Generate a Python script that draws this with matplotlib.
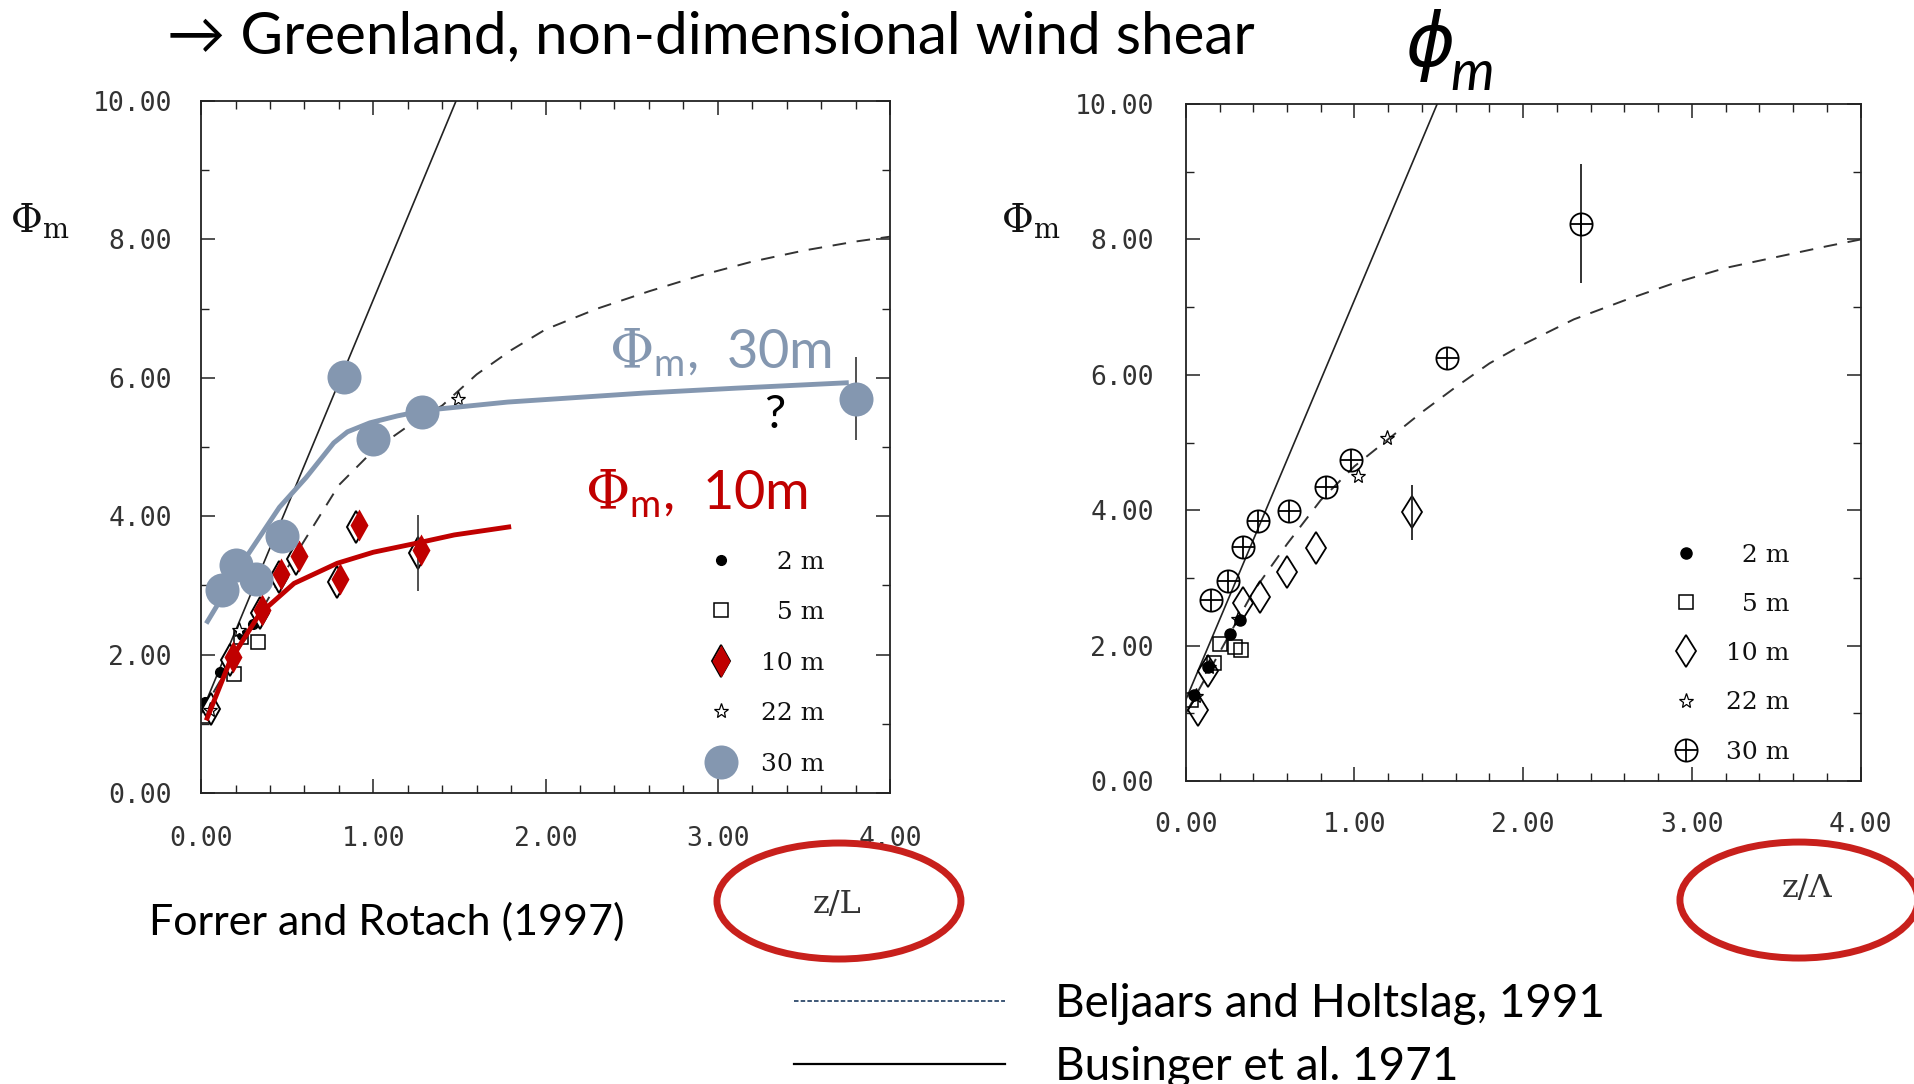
import matplotlib
matplotlib.use('Agg')
import matplotlib.pyplot as plt
from matplotlib.patches import Ellipse
from matplotlib.lines import Line2D
from matplotlib.legend_handler import HandlerTuple
from matplotlib.ticker import MultipleLocator
from matplotlib.transforms import ScaledTranslation

plt.rcParams['mathtext.fontset'] = 'custom'
plt.rcParams['mathtext.rm'] = 'DejaVu Serif'
plt.rcParams['mathtext.sf'] = 'Lato'
plt.rcParams['mathtext.it'] = 'DejaVu Serif:italic'

SLIDE = ['Lato', 'DejaVu Sans']
BLUEGRAY = '#8497B0'
DARKRED = '#C00000'
RING = '#C8201C'

# axis ticks shared by both panels
x_ticks = [0, 1, 2, 3, 4]
x_ticklabels = ['0.00', '1.00', '2.00', '3.00', '4.00']
y_ticks = [0, 2, 4, 6, 8, 10]
y_ticklabels = ['0.00', '2.00', '4.00', '6.00', '8.00', '10.00']

heights = ['\u20072 m', '\u20075 m', '10 m', '22 m', '30 m']

# ---- left panel: Forrer and Rotach (1997), phi_m vs z/L ----
l_2m_x = [0.02, 0.11, 0.24, 0.30]
l_2m_y = [1.31, 1.75, 2.28, 2.45]
l_5m_x = [0.01, 0.19, 0.23, 0.33]
l_5m_y = [1.12, 1.72, 2.25, 2.18]
l_10m_x = [0.06, 0.17, 0.34, 0.45, 0.55, 0.79, 0.90, 1.26]
l_10m_y = [1.22, 1.92, 2.60, 3.12, 3.38, 3.05, 3.84, 3.47]
l_10m_err = [0, 0, 0, 0, 0, 0, 0, 0.55]
l_22m_x = [0.05, 0.22, 1.49]
l_22m_y = [1.20, 2.35, 5.70]
l_30m_x = [0.12, 0.20, 0.32, 0.47, 0.83, 1.00, 1.28, 3.80]
l_30m_y = [2.93, 3.30, 3.09, 3.71, 6.01, 5.11, 5.50, 5.70]
l_30m_err = [0, 0, 0, 0, 0, 0, 0, 0.60]

l_bus_x = [0.0, 1.48]
l_bus_y = [1.15, 10.0]
l_bh_x = [0.0, 0.2, 0.4, 0.6, 0.8, 1.0, 1.2, 1.4, 1.6, 1.8, 2.0, 2.3, 2.6, 2.9, 3.2, 3.5, 3.8, 4.0]
l_bh_y = [1.15, 2.0, 2.85, 3.65, 4.45, 4.95, 5.3, 5.6, 6.05, 6.4, 6.7, 7.0, 7.25, 7.48, 7.68, 7.84, 7.97, 8.04]

fit30_x = [0.03, 0.27, 0.455, 0.61, 0.77, 0.85, 0.98, 1.14, 1.30, 1.78, 2.57, 3.10, 3.76]
fit30_y = [2.45, 3.44, 4.13, 4.56, 5.06, 5.22, 5.35, 5.45, 5.53, 5.65, 5.78, 5.85, 5.93]
fit10_x = [0.03, 0.17, 0.34, 0.54, 0.79, 1.00, 1.25, 1.47, 1.80]
fit10_y = [1.05, 1.92, 2.59, 3.03, 3.32, 3.48, 3.61, 3.73, 3.85]

# ---- right panel: phi_m vs z/Lambda ----
r_2m_x = [0.05, 0.13, 0.26, 0.32]
r_2m_y = [1.27, 1.69, 2.18, 2.38]
r_5m_x = [0.03, 0.17, 0.20, 0.29, 0.33]
r_5m_y = [1.20, 1.74, 2.02, 1.98, 1.94]
r_10m_x = [0.07, 0.13, 0.34, 0.44, 0.60, 0.77, 1.34]
r_10m_y = [1.05, 1.62, 2.63, 2.72, 3.09, 3.44, 3.97]
r_10m_err = [0, 0, 0, 0, 0, 0, 0.41]
r_22m_x = [0.06, 0.14, 0.31, 1.02, 1.19]
r_22m_y = [1.25, 1.68, 2.40, 4.50, 5.07]
r_30m_x = [0.15, 0.25, 0.34, 0.43, 0.61, 0.83, 0.98, 1.55, 2.34]
r_30m_y = [2.67, 2.95, 3.46, 3.84, 3.99, 4.34, 4.74, 6.25, 8.23]
r_30m_err = [0, 0, 0, 0, 0, 0, 0, 0, 0.88]

r_bus_x = [0.0, 1.49]
r_bus_y = [1.2, 10.0]
r_bh_x = [0.0, 0.2, 0.4, 0.6, 0.8, 1.0, 1.2, 1.4, 1.6, 1.8, 2.0, 2.3, 2.6, 2.9, 3.2, 3.5, 3.8, 4.0]
r_bh_y = [1.0, 1.9, 2.8, 3.5, 4.15, 4.65, 5.05, 5.45, 5.82, 6.17, 6.45, 6.82, 7.1, 7.36, 7.58, 7.74, 7.9, 8.0]


def style_axes(ax, xpad, ypad):
    ax.set_xlim(0, 4)
    ax.set_ylim(0, 10)
    ax.set_xticks(x_ticks, x_ticklabels, fontfamily='DejaVu Sans Mono')
    ax.set_yticks(y_ticks, y_ticklabels, fontfamily='DejaVu Sans Mono')
    ax.xaxis.set_minor_locator(MultipleLocator(0.2))
    ax.yaxis.set_minor_locator(MultipleLocator(1))
    ax.tick_params(which='both', direction='in', top=True, right=True,
                   color='#222', labelsize=19, labelcolor='#333')
    ax.tick_params(which='major', length=10, width=1.1)
    ax.tick_params(which='minor', length=6, width=1.0)
    ax.tick_params(axis='x', pad=xpad)
    ax.tick_params(axis='y', pad=ypad)
    for s in ax.spines.values():
        s.set_linewidth(1.3)
        s.set_color('#222')


def reference_curves(ax, bh_x, bh_y, bus_x, bus_y):
    ax.plot(bh_x, bh_y, color='#333', lw=1.4, dashes=(7, 5.5))
    ax.plot(bus_x, bus_y, color='#222', lw=1.2)


def height_legend(ax, handles, anchor, spacing):
    leg = ax.legend(handles, heights, handler_map={tuple: HandlerTuple(ndivide=1)},
                    loc='lower right', bbox_to_anchor=anchor, frameon=False,
                    prop={'family': 'DejaVu Serif', 'size': 18}, handlelength=1.2,
                    handletextpad=1.0, labelspacing=spacing, borderaxespad=0.3)
    for t in leg.get_texts():
        t.set_color('#111')
    return leg


fig = plt.figure(figsize=(19.15, 10.84), dpi=100)
axL = fig.add_axes([0.105, 0.2684, 0.3598, 0.6384])
axR = fig.add_axes([0.6192, 0.2794, 0.3524, 0.6246])

# left panel
reference_curves(axL, l_bh_x, l_bh_y, l_bus_x, l_bus_y)
p2, = axL.plot(l_2m_x, l_2m_y, 'o', ms=7, color='black', ls='none')
p5, = axL.plot(l_5m_x, l_5m_y, 's', ms=10, mfc='none', mec='black', mew=1.1, ls='none')
p10o, = axL.plot(l_10m_x, l_10m_y, 'd', ms=16, mfc='white', mec='black', mew=1.4, ls='none')
axL.errorbar(l_10m_x, l_10m_y, yerr=l_10m_err, fmt='none', ecolor='#333', elinewidth=1.2)
p22, = axL.plot(l_22m_x, l_22m_y, '*', ms=11, mfc='white', mec='black', mew=0.9, ls='none')
axL.errorbar(l_30m_x, l_30m_y, yerr=l_30m_err, fmt='none', ecolor='#333', elinewidth=1.2)
axL.plot(fit30_x, fit30_y, color=BLUEGRAY, lw=3.5, solid_capstyle='butt')
axL.plot(fit10_x, fit10_y, color=DARKRED, lw=3.5, solid_capstyle='butt')
# coloured diamonds sit slightly up-right of the printed ones; the lowest point stays uncoloured
shift = axL.transData + ScaledTranslation(2 / 72, 2 / 72, fig.dpi_scale_trans)
p10r, = axL.plot(l_10m_x[1:], l_10m_y[1:], 'd', ms=16, color=DARKRED, mec='none',
                 ls='none', transform=shift)
p30, = axL.plot(l_30m_x, l_30m_y, 'o', ms=24.5, color=BLUEGRAY, mec='none', ls='none')

axL.text(2.37, 6.35, r'$\Phi_{\mathsf{m}}\mathsf{,\ 30m}$', fontsize=39, color=BLUEGRAY,
         va='center', ha='left')
axL.text(3.33, 5.47, '?', fontsize=34, family=SLIDE, va='center', ha='center')
axL.text(2.23, 4.32, r'$\Phi_{\mathsf{m}}\mathsf{,\ 10m}$', fontsize=39, color=DARKRED,
         va='center', ha='left')

style_axes(axL, 24, 21)
height_legend(axL, [p2, p5, (p10o, p10r), p22, p30], (0.93, 0.0), 1.1)

# right panel
reference_curves(axR, r_bh_x, r_bh_y, r_bus_x, r_bus_y)
q2, = axR.plot(r_2m_x, r_2m_y, 'o', ms=8, color='black', ls='none')
q5, = axR.plot(r_5m_x, r_5m_y, 's', ms=10, mfc='none', mec='black', mew=1.1, ls='none')
q10, = axR.plot(r_10m_x, r_10m_y, 'd', ms=16.5, mfc='none', mec='black', mew=1.3, ls='none')
axR.errorbar(r_10m_x, r_10m_y, yerr=r_10m_err, fmt='none', ecolor='#222', elinewidth=1.3)
q22, = axR.plot(r_22m_x, r_22m_y, '*', ms=11, mfc='none', mec='black', mew=0.9, ls='none')
axR.errorbar(r_30m_x, r_30m_y, yerr=r_30m_err, fmt='none', ecolor='#222', elinewidth=1.3)
q30o, = axR.plot(r_30m_x, r_30m_y, 'o', ms=16, mfc='none', mec='black', mew=1.3, ls='none')
q30p, = axR.plot(r_30m_x, r_30m_y, '+', ms=16, color='black', mew=1.3, ls='none')

style_axes(axR, 22, 23)
height_legend(axR, [q2, q5, q10, q22, (q30o, q30p)], (0.92, 0.0), 1.05)

# axis labels
fig.text(0.0205, 0.797, r'$\Phi_{\mathrm{m}}$', fontsize=28, ha='center', va='center', color='#111')
fig.text(0.538, 0.797, r'$\Phi_{\mathrm{m}}$', fontsize=28, ha='center', va='center', color='#111')
fig.text(0.437, 0.166, 'z/L', family='DejaVu Serif', fontsize=23, color='#333',
         ha='center', va='center')
fig.text(0.9436, 0.1799, 'z/\u039b', family='DejaVu Serif', fontsize=23, color='#333',
         ha='center', va='center')
fig.add_artist(Ellipse((0.4381, 0.1688), 0.1274, 0.107, transform=fig.transFigure,
                       fill=False, ec=RING, lw=5))
fig.add_artist(Ellipse((0.9394, 0.1697), 0.1243, 0.107, transform=fig.transFigure,
                       fill=False, ec=RING, lw=5))

# slide texts
fig.text(0.0872, 0.966, '\u2192 Greenland, non-dimensional wind shear', fontsize=42,
         family=SLIDE, ha='left', va='center')
fig.text(0.747, 0.958, '\u03d5', fontsize=54, style='italic', family=['DejaVu Sans'],
         ha='center', va='center')
fig.text(0.769, 0.931, 'm', fontsize=40, style='italic', family=SLIDE,
         ha='center', va='center')
fig.text(0.0778, 0.1494, 'Forrer and Rotach (1997)', fontsize=31, family=SLIDE,
         ha='left', va='center')

fig.legend([Line2D([], [], color='#2E4A6B', lw=1.3, ls=(0, (2.5, 1.2))),
            Line2D([], [], color='black', lw=1.6)],
           ['Beljaars and Holtslag, 1991', 'Businger et al. 1971'],
           loc='upper left', bbox_to_anchor=(0.4146, 0.093), bbox_transform=fig.transFigure,
           frameon=False, prop={'family': SLIDE, 'size': 33},
           handlelength=4.6, handletextpad=1.1, labelspacing=0.45, borderpad=0,
           borderaxespad=0)

fig.savefig('out.png', dpi=100)
